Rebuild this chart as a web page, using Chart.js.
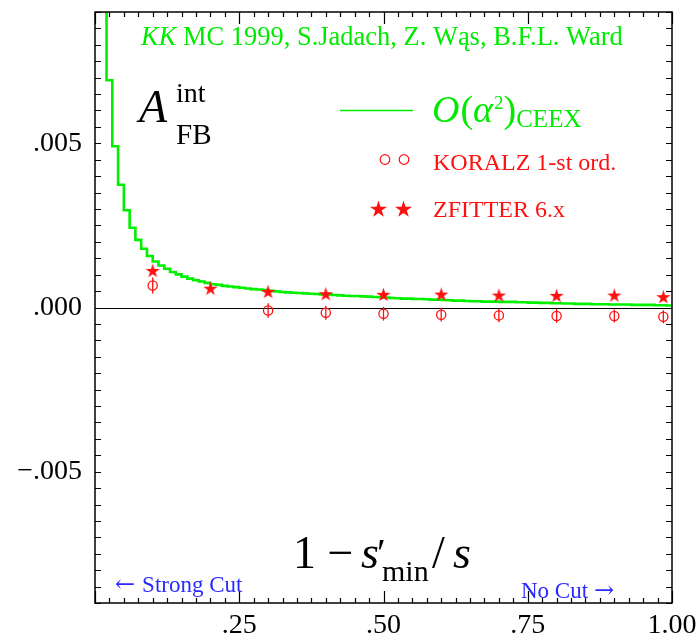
<!DOCTYPE html>
<html>
<head>
<meta charset="utf-8">
<script src="https://cdn.jsdelivr.net/npm/chart.js@4.4.1/dist/chart.umd.min.js"></script>
<style>
  html, body { margin: 0; padding: 0; background: #fff; }
</style>
</head>
<body>
<canvas id="c" width="698" height="642"></canvas>
<script>
// O(alpha^2) CEEX histogram: first bin starts at 0.01, bins are 0.01 wide
const ceexBinStart = 0.01;
const ceexBinWidth = 0.01;
const ceexValues = [
  0.0125, 0.00692, 0.00491, 0.00374, 0.00296, 0.00243, 0.00206, 0.00179, 0.00157, 0.00140,
  0.00128, 0.00118, 0.00108, 0.00101, 0.00094, 0.00088, 0.00083, 0.00079, 0.00075, 0.00071,
  0.00069, 0.00066, 0.00064, 0.00062, 0.00060, 0.00058, 0.00056, 0.00055, 0.00053, 0.00051,
  0.00049, 0.00047, 0.00046, 0.00045, 0.00044, 0.00043, 0.00042, 0.00041, 0.00040, 0.00040,
  0.00038, 0.00037, 0.00036, 0.00035, 0.00035, 0.00034, 0.00033, 0.00032, 0.00031, 0.00030,
  0.00029, 0.00028, 0.00027, 0.00027, 0.00026, 0.00026, 0.00025, 0.00024, 0.00024, 0.00023,
  0.00022, 0.00021, 0.00021, 0.00020, 0.00019, 0.00019, 0.00018, 0.00018, 0.00018, 0.00017,
  0.00017, 0.00017, 0.00016, 0.00016, 0.00015, 0.00015, 0.00014, 0.00014, 0.00013, 0.00013,
  0.00012, 0.00012, 0.00011, 0.00011, 0.00011, 0.00010, 0.00010, 0.00010, 0.00009, 0.00009,
  0.00009, 0.00009, 0.00008, 0.00008, 0.00008, 0.00008, 0.00007, 0.00007, 0.00006
];

// KORALZ / ZFITTER points (no KORALZ circle is visible at 0.2)
const pointsX = [0.1, 0.2, 0.3, 0.4, 0.5, 0.6, 0.7, 0.8, 0.9, 0.985];
const koralzValues = [0.00067, null, -0.00009, -0.00016, -0.00019, -0.00022, -0.00024, -0.00026, -0.00026, -0.00028];
const koralzErrors = [0.00024, null, 0.00022, 0.00021, 0.00021, 0.00021, 0.00021, 0.00021, 0.00020, 0.00020];
const zfitterValues = [0.00113, 0.00059, 0.00049, 0.00042, 0.00040, 0.00041, 0.00038, 0.00037, 0.00038, 0.00033];

const xTicks = [0.25, 0.5, 0.75, 1.0];
const xTickLabels = ['.25', '.50', '.75', '1.00'];
const yTicks = [-0.005, 0, 0.005];
const yTickLabels = ['\u2212.005', '.000', '.005'];

const SERIF = '"Liberation Serif", "DejaVu Serif", serif';
const GREEN = 'rgb(0,235,0)';
const RED = '#ff1010';
const BLUE = '#2a2aff';

function starPath(g, cx, cy, r) {
  g.beginPath();
  for (let k = 0; k < 10; k++) {
    const rad = k % 2 === 0 ? r : r * 0.38;
    const a = -Math.PI / 2 + k * Math.PI / 5;
    const px = cx + rad * Math.cos(a), py = cy + rad * Math.sin(a);
    if (k === 0) g.moveTo(px, py); else g.lineTo(px, py);
  }
  g.closePath();
}

function starImage(r) {
  const c = document.createElement('canvas');
  const s = Math.ceil(r * 2 + 2);
  c.width = s; c.height = s;
  const g = c.getContext('2d');
  g.fillStyle = RED;
  starPath(g, s / 2, s / 2 + 0.8, r);
  g.fill();
  return c;
}

function put(ctx, t, x, y, font, color) {
  ctx.font = font;
  ctx.fillStyle = color;
  ctx.textAlign = 'left';
  ctx.textBaseline = 'alphabetic';
  ctx.fillText(t, x, y);
  return ctx.measureText(t).width;
}

const ceexPoints = ceexValues.map((v, i) => ({ x: ceexBinStart + i * ceexBinWidth, y: v }));
ceexPoints.push({ x: 1.0, y: ceexValues[ceexValues.length - 1] });

const framePlugin = {
  id: 'frame',
  beforeDatasetsDraw(chart) {
    const { ctx, chartArea: a, scales: { y } } = chart;
    const y0 = Math.round(y.getPixelForValue(0)) + 0.5;
    ctx.save();
    ctx.strokeStyle = '#000';
    ctx.lineWidth = 1.2;
    ctx.beginPath();
    ctx.moveTo(a.left, y0);
    ctx.lineTo(a.right, y0);
    ctx.stroke();
    ctx.restore();
  },
  afterDatasetsDraw(chart) {
    const { ctx, scales: { x, y } } = chart;
    ctx.save();
    ctx.strokeStyle = RED;
    ctx.lineWidth = 1.3;
    pointsX.forEach((v, i) => {
      if (koralzValues[i] === null) return;
      const px = x.getPixelForValue(v);
      ctx.beginPath();
      ctx.moveTo(px, y.getPixelForValue(koralzValues[i] + koralzErrors[i]));
      ctx.lineTo(px, y.getPixelForValue(koralzValues[i] - koralzErrors[i]));
      ctx.stroke();
    });
    ctx.restore();
  },
  afterDraw(chart) {
    const { ctx, chartArea: a, scales: { x, y } } = chart;
    ctx.save();
    // frame and inward ticks on all four sides
    ctx.strokeStyle = '#000';
    ctx.lineWidth = 1.5;
    ctx.strokeRect(a.left, a.top, a.right - a.left, a.bottom - a.top);
    ctx.lineWidth = 1.2;
    ctx.beginPath();
    for (let i = 0; i <= 40; i++) {
      const px = Math.round(x.getPixelForValue(i * 0.025)) + 0.5;
      const len = i % 10 === 0 ? 12 : 5;
      ctx.moveTo(px, a.top); ctx.lineTo(px, a.top + len);
      ctx.moveTo(px, a.bottom); ctx.lineTo(px, a.bottom - len);
    }
    for (let i = -18; i <= 18; i++) {
      const py = Math.round(y.getPixelForValue(i * 0.0005)) + 0.5;
      ctx.moveTo(a.left, py); ctx.lineTo(a.left + 6, py);
      ctx.moveTo(a.right, py); ctx.lineTo(a.right - 6, py);
    }
    ctx.stroke();

    // header
    const rest = ' MC 1999, S.Jadach, Z. W\u0105s, B.F.L. Ward';
    ctx.font = 'italic 20px ' + SERIF;
    const wk = ctx.measureText('KK').width;
    ctx.font = '20px ' + SERIF;
    const wr = ctx.measureText(rest).width;
    const fs = 20 * 482 / (wk + wr);
    let hx = 141;
    hx += put(ctx, 'KK', hx, 45, 'italic ' + fs + 'px ' + SERIF, GREEN);
    put(ctx, rest, hx, 45, fs + 'px ' + SERIF, GREEN);

    // A_FB^int
    put(ctx, 'A', 139, 122, 'italic 46px ' + SERIF, '#000');
    put(ctx, 'int', 176, 102, '28px ' + SERIF, '#000');
    put(ctx, 'FB', 176, 144, '29px ' + SERIF, '#000');

    // legend: CEEX
    ctx.strokeStyle = GREEN;
    ctx.lineWidth = 1.6;
    ctx.beginPath();
    ctx.moveTo(340, 110.5); ctx.lineTo(413, 110.5);
    ctx.stroke();
    let lx = 432;
    lx += put(ctx, 'O', lx, 122, 'italic 38px ' + SERIF, GREEN);
    lx += put(ctx, '(', lx + 1, 122, '38px ' + SERIF, GREEN) + 1;
    lx += put(ctx, '\u03b1', lx, 122, 'italic 38px ' + SERIF, GREEN);
    lx += put(ctx, '2', lx + 1, 109, '19px ' + SERIF, GREEN) + 1;
    lx += put(ctx, ')', lx, 122, '38px ' + SERIF, GREEN);
    put(ctx, 'CEEX', lx, 127, '25px ' + SERIF, GREEN);

    // legend: KORALZ
    ctx.strokeStyle = RED;
    ctx.lineWidth = 1.2;
    [385, 404].forEach(cx => {
      ctx.beginPath();
      ctx.arc(cx, 159.5, 4.8, 0, Math.PI * 2);
      ctx.stroke();
    });
    put(ctx, 'KORALZ 1-st ord.', 433, 170, '24px ' + SERIF, RED);

    // legend: ZFITTER
    ctx.fillStyle = RED;
    [378.5, 403.5].forEach(cx => {
      starPath(ctx, cx, 209.5, 9);
      ctx.fill();
    });
    put(ctx, 'ZFITTER 6.x', 433, 217, '24px ' + SERIF, RED);

    // axis title inside the frame
    put(ctx, '1 \u2212', 293, 568, '46px ' + SERIF, '#000');
    put(ctx, 's', 361, 568, 'italic 46px ' + SERIF, '#000');
    put(ctx, '\u2032', 377, 566, '40px ' + SERIF, '#000');
    put(ctx, 'min', 382, 581, '30px ' + SERIF, '#000');
    put(ctx, '/', 432, 568, '46px ' + SERIF, '#000');
    put(ctx, 's', 453, 568, 'italic 46px ' + SERIF, '#000');

    // cut arrows
    const aw = put(ctx, '\u2190', 115, 592, '24px "DejaVu Serif"', BLUE);
    put(ctx, 'Strong Cut', 115 + aw + 7, 592, '23px ' + SERIF, BLUE);
    const nw = put(ctx, 'No Cut', 521, 598, '23px ' + SERIF, BLUE);
    put(ctx, '\u2192', 521 + nw + 6, 598, '24px "DejaVu Serif"', BLUE);
    ctx.restore();
  }
};

new Chart(document.getElementById('c'), {
  type: 'scatter',
  data: {
    datasets: [
      {
        label: 'ZFITTER 6.x',
        data: pointsX.map((v, i) => ({ x: v, y: zfitterValues[i] })),
        pointStyle: starImage(7.5),
        pointRadius: 7
      },
      {
        label: 'KORALZ 1-st ord.',
        data: pointsX.map((v, i) => ({ x: v, y: koralzValues[i] })),
        pointStyle: 'circle',
        pointRadius: 4.6,
        borderColor: RED,
        backgroundColor: 'rgba(0,0,0,0)',
        borderWidth: 1.3
      },
      {
        type: 'line',
        label: 'O(\u03b1\u00b2) CEEX',
        data: ceexPoints,
        stepped: 'before',
        borderColor: 'rgb(0,240,0)',
        borderWidth: 2.6,
        pointRadius: 0,
        fill: false
      }
    ]
  },
  options: {
    responsive: false,
    animation: false,
    events: [],
    layout: { padding: { top: 12, right: 26, left: 0, bottom: 0 } },
    plugins: { legend: { display: false }, tooltip: { enabled: false } },
    scales: {
      x: {
        type: 'linear', min: 0, max: 1,
        grid: { display: false, drawTicks: false },
        border: { display: false },
        afterBuildTicks: s => { s.ticks = xTicks.map(v => ({ value: v })); },
        afterFit: s => { s.height = 39; s.paddingLeft = 0; s.paddingRight = 0; },
        ticks: {
          padding: 6, autoSkip: false, maxRotation: 0, color: '#000',
          font: { family: SERIF, size: 28 },
          callback: (v, i) => xTickLabels[i]
        }
      },
      y: {
        type: 'linear', min: -0.009, max: 0.009,
        grid: { display: false, drawTicks: false },
        border: { display: false },
        afterBuildTicks: s => { s.ticks = yTicks.map(v => ({ value: v })); },
        afterFit: s => { s.width = 95; s.paddingTop = 0; s.paddingBottom = 0; },
        ticks: {
          padding: 13, color: '#000',
          font: { family: SERIF, size: 28 },
          callback: (v, i) => yTickLabels[i]
        }
      }
    }
  },
  plugins: [framePlugin]
});
</script>
</body>
</html>
